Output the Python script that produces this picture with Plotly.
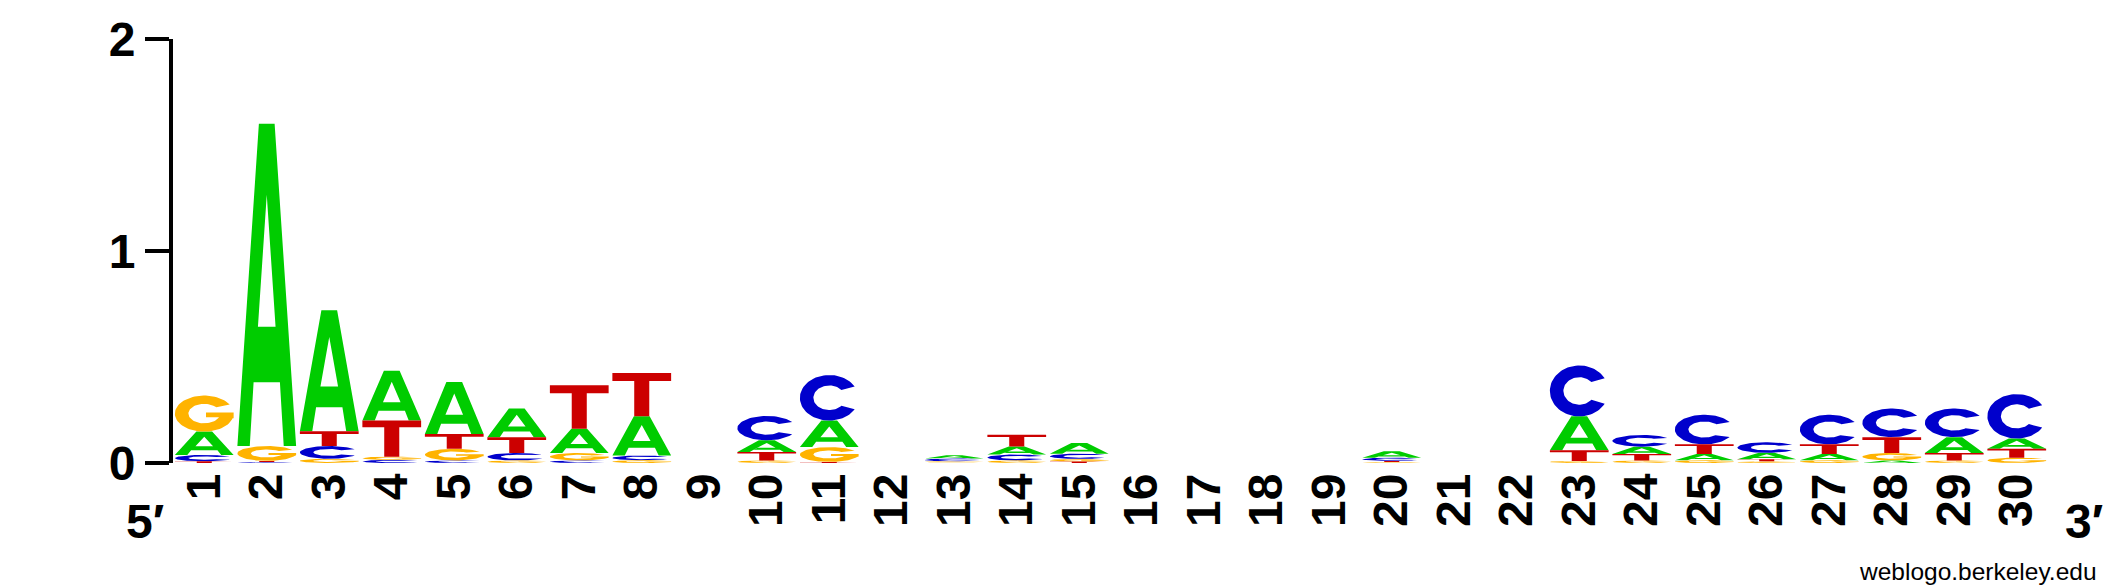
import math
import plotly.graph_objects as go

# ---- data (bits per letter at each position) ----
positions = list(range(1, 31))
tick_labels = [str(p) for p in positions]
bits_A = [0.11, 1.52, 0.57, 0.235, 0.245, 0.135, 0.115, 0.185, 0, 0.055,
          0.125, 0, 0.016, 0.038, 0.05, 0, 0, 0, 0, 0.03,
          0, 0, 0.16, 0.035, 0.03, 0.03, 0.03, 0.012, 0.075, 0.048]
bits_C = [0.03, 0.005, 0.06, 0.015, 0.012, 0.035, 0.012, 0.022, 0, 0.115,
          0.215, 0, 0.013, 0.028, 0.025, 0, 0, 0, 0, 0.015,
          0, 0, 0.24, 0.055, 0.14, 0.05, 0.14, 0.135, 0.135, 0.21]
bits_G = [0.17, 0.07, 0.02, 0.015, 0.055, 0.012, 0.035, 0.013, 0, 0.012,
          0.07, 0, 0.005, 0.012, 0.012, 0, 0, 0, 0, 0.005,
          0, 0, 0.01, 0.012, 0.013, 0.008, 0.013, 0.035, 0.012, 0.025]
bits_T = [0.008, 0.005, 0.07, 0.17, 0.07, 0.075, 0.205, 0.205, 0, 0.04,
          0.005, 0, 0.003, 0.055, 0.007, 0, 0, 0, 0, 0.005,
          0, 0, 0.05, 0.03, 0.045, 0.01, 0.045, 0.075, 0.035, 0.042]

colors = {"A": "#00CC00", "C": "#0000CC", "G": "#FFB300", "T": "#CC0000"}

# ---- glyph outlines in a unit box ----
def arc(cx, cy, rx, ry, a0, a1, n=48):
    pts = []
    for k in range(n + 1):
        a = math.radians(a0 + (a1 - a0) * k / n)
        pts.append((cx + rx * math.cos(a), cy + ry * math.sin(a)))
    return pts

glyph_A = [(0, 0), (0.211, 0), (0.276, 0.198),
           (0.35, 0.37), (0.5, 0.78), (0.65, 0.37), (0.35, 0.37),
           (0.276, 0.198), (0.724, 0.198), (0.789, 0), (1, 0),
           (0.634, 1), (0.366, 1), (0, 0)]
glyph_T = [(0, 1), (1, 1), (1, 0.816), (0.628, 0.816), (0.628, 0),
           (0.372, 0), (0.372, 0.816), (0, 0.816), (0, 1)]
glyph_C = arc(0.5, 0.5, 0.5, 0.5, 30, 330, 72) + arc(0.5, 0.5, 0.27, 0.27, 320, 40, 60)
glyph_C.append(glyph_C[0])
glyph_G = (arc(0.5, 0.5, 0.5, 0.5, 30, 345, 72)
           + [(1.0, 0.371), (1.0, 0.53), (0.53, 0.53), (0.53, 0.40)]
           + arc(0.5, 0.5, 0.27, 0.27, -22, -320, 60))
glyph_G.append(glyph_G[0])
glyphs = {"A": glyph_A, "C": glyph_C, "G": glyph_G, "T": glyph_T}

HALF = 0.47
series = {"A": bits_A, "C": bits_C, "G": bits_G, "T": bits_T}
xs = {k: [] for k in series}
ys = {k: [] for k in series}
for i, p in enumerate(positions):
    stack = sorted(((series[k][i], k) for k in series), key=lambda t: t[0])
    base = 0.0
    for h, k in stack:
        if h <= 0:
            continue
        for gx, gy in glyphs[k]:
            xs[k].append(p - HALF + gx * 2 * HALF)
            ys[k].append(base + gy * h)
        xs[k].append(None)
        ys[k].append(None)
        base += h

fig = go.Figure()
for k in ["A", "C", "G", "T"]:
    fig.add_trace(go.Scatter(x=xs[k], y=ys[k], mode="lines", fill="toself",
                             fillcolor=colors[k], line=dict(width=0, color=colors[k]),
                             hoverinfo="skip", showlegend=False, name=k))

FONT = "Liberation Sans"
OFF = 8  # page body margin in the browser
W, H = 2125 - OFF, 588 - OFF
L = 173 - OFF
T_ = 39 - OFF
B = H - (462.7 - OFF)
R = W - (2048 - OFF)
PW, PH = W - L - R, H - T_ - B

def px_x(x):  # page pixel -> paper coordinate
    return (x - OFF - L) / PW

def px_y(y):
    return (H - B - (y - OFF)) / PH

fig.update_layout(
    width=W, height=H, autosize=False,
    margin=dict(l=L, r=R, t=T_, b=B, pad=0),
    plot_bgcolor="white", paper_bgcolor="white",
    showlegend=False,
    xaxis=dict(range=[0.5, 30.5], tickmode="array", tickvals=positions, ticktext=tick_labels,
               tickangle=-90, showgrid=False, zeroline=False, showline=False, ticks="",
               automargin=False,
               tickfont=dict(family=FONT, size=48, color="black", weight="bold")),
    yaxis=dict(range=[0, 2], tickmode="array", tickvals=[0, 1, 2], ticktext=["0", "1", "2"],
               showgrid=False, zeroline=False, showline=True, linewidth=4, linecolor="black",
               ticks="outside", ticklen=24, tickwidth=4, tickcolor="black",
               automargin=False,
               tickfont=dict(family=FONT, size=48, color="black", weight="bold")),
    annotations=[
        dict(text="5′", x=px_x(145), y=px_y(521), xref="paper", yref="paper", showarrow=False,
             xanchor="center", yanchor="middle",
             font=dict(family=FONT, size=48, color="black", weight="bold")),
        dict(text="3′", x=px_x(2084), y=px_y(521), xref="paper", yref="paper", showarrow=False,
             xanchor="center", yanchor="middle",
             font=dict(family=FONT, size=48, color="black", weight="bold")),
        dict(text="weblogo.berkeley.edu", x=px_x(2099), y=px_y(571),
             xref="paper", yref="paper", showarrow=False, xanchor="right", yanchor="middle",
             font=dict(family=FONT, size=24.5, color="black")),
    ],
)
fig.write_html("out.html")
